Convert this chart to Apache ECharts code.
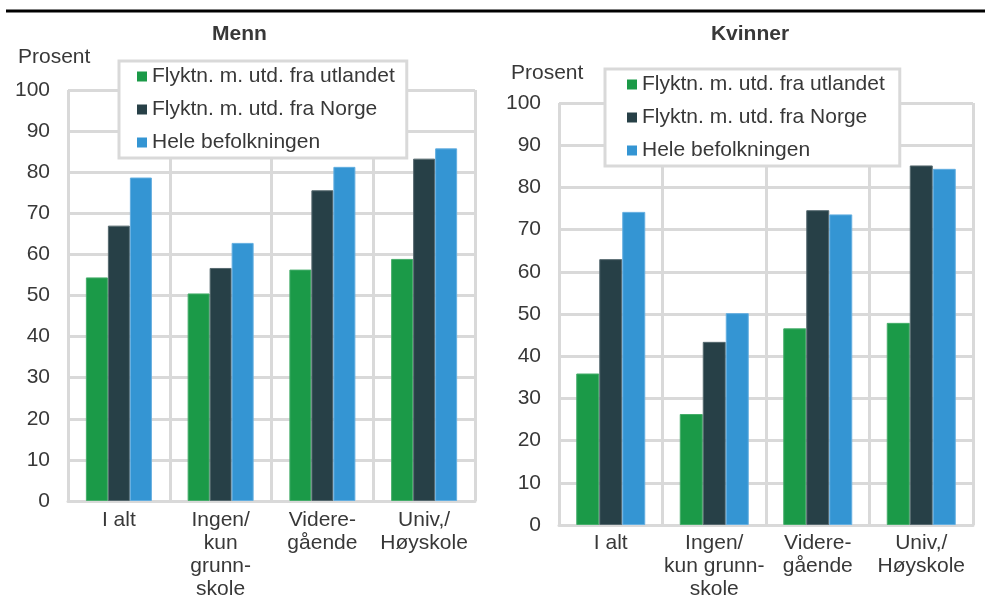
<!DOCTYPE html>
<html>
<head>
<meta charset="utf-8">
<script src="https://cdn.jsdelivr.net/npm/echarts@6/dist/echarts.min.js"></script>
<style>html,body{margin:0;padding:0;background:#fff}#c{width:985px;height:601px}</style>
</head>
<body>
<div id="c"></div>
<script>
// ---- data ----
var seriesNames = ['Flyktn. m. utd. fra utlandet', 'Flyktn. m. utd. fra Norge', 'Hele befolkningen'];
var categoriesMenn = ['I alt', 'Ingen/\nkun\ngrunn-\nskole', 'Videre-\ngående', 'Univ,/\nHøyskole'];
var categoriesKvinner = ['I alt', 'Ingen/\nkun grunn-\nskole', 'Videre-\ngående', 'Univ,/\nHøyskole'];
var mennUtland = [54.4, 50.5, 56.3, 58.9];
var mennNorge = [67.0, 56.7, 75.6, 83.3];
var mennHele = [78.7, 62.8, 81.3, 85.8];
var kvinnerUtland = [35.9, 26.3, 46.6, 47.9];
var kvinnerNorge = [63.0, 43.4, 74.6, 85.2];
var kvinnerHele = [74.2, 50.2, 73.6, 84.4];
var panelTitles = ['Menn', 'Kvinner'];
var yAxisName = 'Prosent';

// ---- styling ----
var colors = ['#1b9a48', '#274047', '#3495d3'];
var borders = ['#45ad6a', '#56696f', '#63aee0'];
var FONT = '"Liberation Sans", Arial, Helvetica, sans-serif';
var TXT = '#383838';
var GRID = '#d9d9d9';

var chart = echarts.init(document.getElementById('c'), null, {renderer: 'canvas'});

function xAxis(idx, cats, margin) {
  return {
    type: 'category', gridIndex: idx, data: cats, boundaryGap: true,
    axisLine: {show: true, lineStyle: {color: GRID, width: 3}},
    axisTick: {show: false},
    splitLine: {show: true, interval: 0, lineStyle: {color: GRID, width: 3}},
    axisLabel: {interval: 0, color: TXT, fontFamily: FONT, fontSize: 21, lineHeight: 23, margin: margin}
  };
}
function yAxis(idx) {
  return {
    type: 'value', gridIndex: idx, min: 0, max: 100, interval: 10,
    axisLine: {show: false}, axisTick: {show: false},
    splitLine: {show: true, lineStyle: {color: GRID, width: 3}},
    axisLabel: {color: TXT, fontFamily: FONT, fontSize: 21, margin: 18}
  };
}
function legend(left, top, padding) {
  return {
    orient: 'vertical', left: left, top: top, data: seriesNames,
    icon: 'rect', itemWidth: 10, itemHeight: 10, itemGap: 12,
    itemStyle: {borderWidth: 0},
    padding: padding, backgroundColor: '#fff', borderColor: GRID, borderWidth: 3,
    textStyle: {color: TXT, fontFamily: FONT, fontSize: 21, lineHeight: 21},
    selectedMode: false
  };
}
function bar(name, idx, data, k, w) {
  return {
    type: 'bar', name: name, xAxisIndex: idx, yAxisIndex: idx, data: data,
    barWidth: w, barGap: '0%',
    itemStyle: {color: colors[k], borderColor: borders[k], borderWidth: 1},
    animation: false
  };
}

var option = {
  animation: false,
  backgroundColor: '#fff',
  grid: [
    {left: 68, right: 510, top: 90, bottom: 99},
    {left: 559, right: 12, top: 103, bottom: 76}
  ],
  xAxis: [xAxis(0, categoriesMenn, 8), xAxis(1, categoriesKvinner, 7)],
  yAxis: [yAxis(0), yAxis(1)],
  legend: [legend(119, 61, [5, 12, 5, 18]), legend(605, 69, [5, 15, 5, 22])],
  series: [
    bar(seriesNames[0], 0, mennUtland, 0, 22),
    bar(seriesNames[1], 0, mennNorge, 1, 22),
    bar(seriesNames[2], 0, mennHele, 2, 22),
    bar(seriesNames[0], 1, kvinnerUtland, 0, 23),
    bar(seriesNames[1], 1, kvinnerNorge, 1, 23),
    bar(seriesNames[2], 1, kvinnerHele, 2, 23)
  ],
  graphic: [
    {type: 'rect', shape: {x: 6, y: 9.5, width: 979, height: 3}, style: {fill: '#000'}},
    {type: 'text', x: 239.5, y: 34, style: {text: panelTitles[0], font: 'bold 21px ' + FONT, fill: TXT, textAlign: 'center', textVerticalAlign: 'middle'}},
    {type: 'text', x: 750, y: 34, style: {text: panelTitles[1], font: 'bold 21px ' + FONT, fill: TXT, textAlign: 'center', textVerticalAlign: 'middle'}},
    {type: 'text', x: 18, y: 57, style: {text: yAxisName, font: '21px ' + FONT, fill: TXT, textAlign: 'left', textVerticalAlign: 'middle'}},
    {type: 'text', x: 511, y: 73, style: {text: yAxisName, font: '21px ' + FONT, fill: TXT, textAlign: 'left', textVerticalAlign: 'middle'}}
  ]
};
chart.setOption(option);
</script>
</body>
</html>
